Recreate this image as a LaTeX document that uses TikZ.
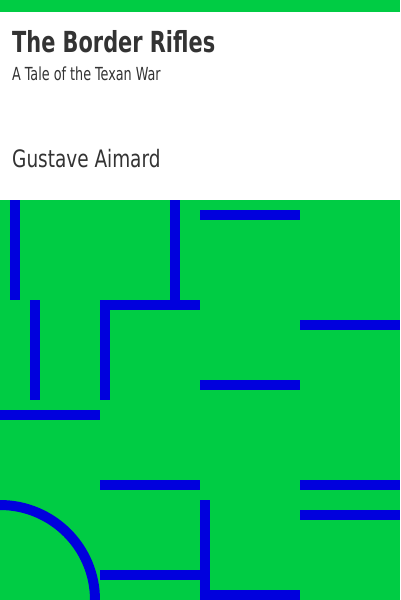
\documentclass[tikz,border=0pt]{standalone}
\usepackage{fontspec}
\usepackage{xcolor}
\setmainfont{DejaVu Sans Condensed}
\definecolor{covergreen}{HTML}{00CC44}
\definecolor{mazeblue}{HTML}{0000DD}
\definecolor{inkgray}{HTML}{333333}
\tikzset{
  wall/.style={fill=mazeblue},
  covertext/.style={inkgray, anchor=base west, inner sep=0pt}
}

\begin{document}
\begin{tikzpicture}[x=1pt, y=-1pt]
\useasboundingbox (0,0) rectangle (400,600);
%\draw[step=10,gray,very thin] (0,0) grid (400,600); %background grid
\fill[white] (0,0) rectangle (400,600);
\fill[covergreen] (0,0) rectangle (400,12);
\fill[covergreen] (0,200) rectangle (400,600);

\node[covertext] (title)    at (12,52)  {\scalebox{0.8}[1]{\fontsize{29}{29}\selectfont\bfseries The Border Rifles}};
\node[covertext] (subtitle) at (12,80)  {\scalebox{0.79}[1]{\fontsize{18}{18}\selectfont A Tale of the Texan War}};
\node[covertext] (author)   at (12,167) {\scalebox{0.855}[1]{\fontsize{24}{24}\selectfont Gustave Aimard}};

\fill[wall] (10,200)  rectangle (20,300);
\fill[wall] (30,300)  rectangle (40,400);
\fill[wall] (170,200) rectangle (180,300);
\fill[wall] (100,300) rectangle (200,310);
\fill[wall] (100,300) rectangle (110,400);
\fill[wall] (0,410)   rectangle (100,420);
\fill[wall] (200,210) rectangle (300,220);
\fill[wall] (300,320) rectangle (400,330);
\fill[wall] (200,380) rectangle (300,390);
\fill[wall] (100,480) rectangle (200,490);
\fill[wall] (300,480) rectangle (400,490);
\fill[wall] (300,510) rectangle (400,520);
\fill[wall] (200,500) rectangle (210,600);
\fill[wall] (100,570) rectangle (200,580);
\fill[wall] (200,590) rectangle (300,600);

\draw[mazeblue, line width=10pt] (0,505) arc[start angle=-90, end angle=0, radius=95];

\end{tikzpicture}
\end{document}
